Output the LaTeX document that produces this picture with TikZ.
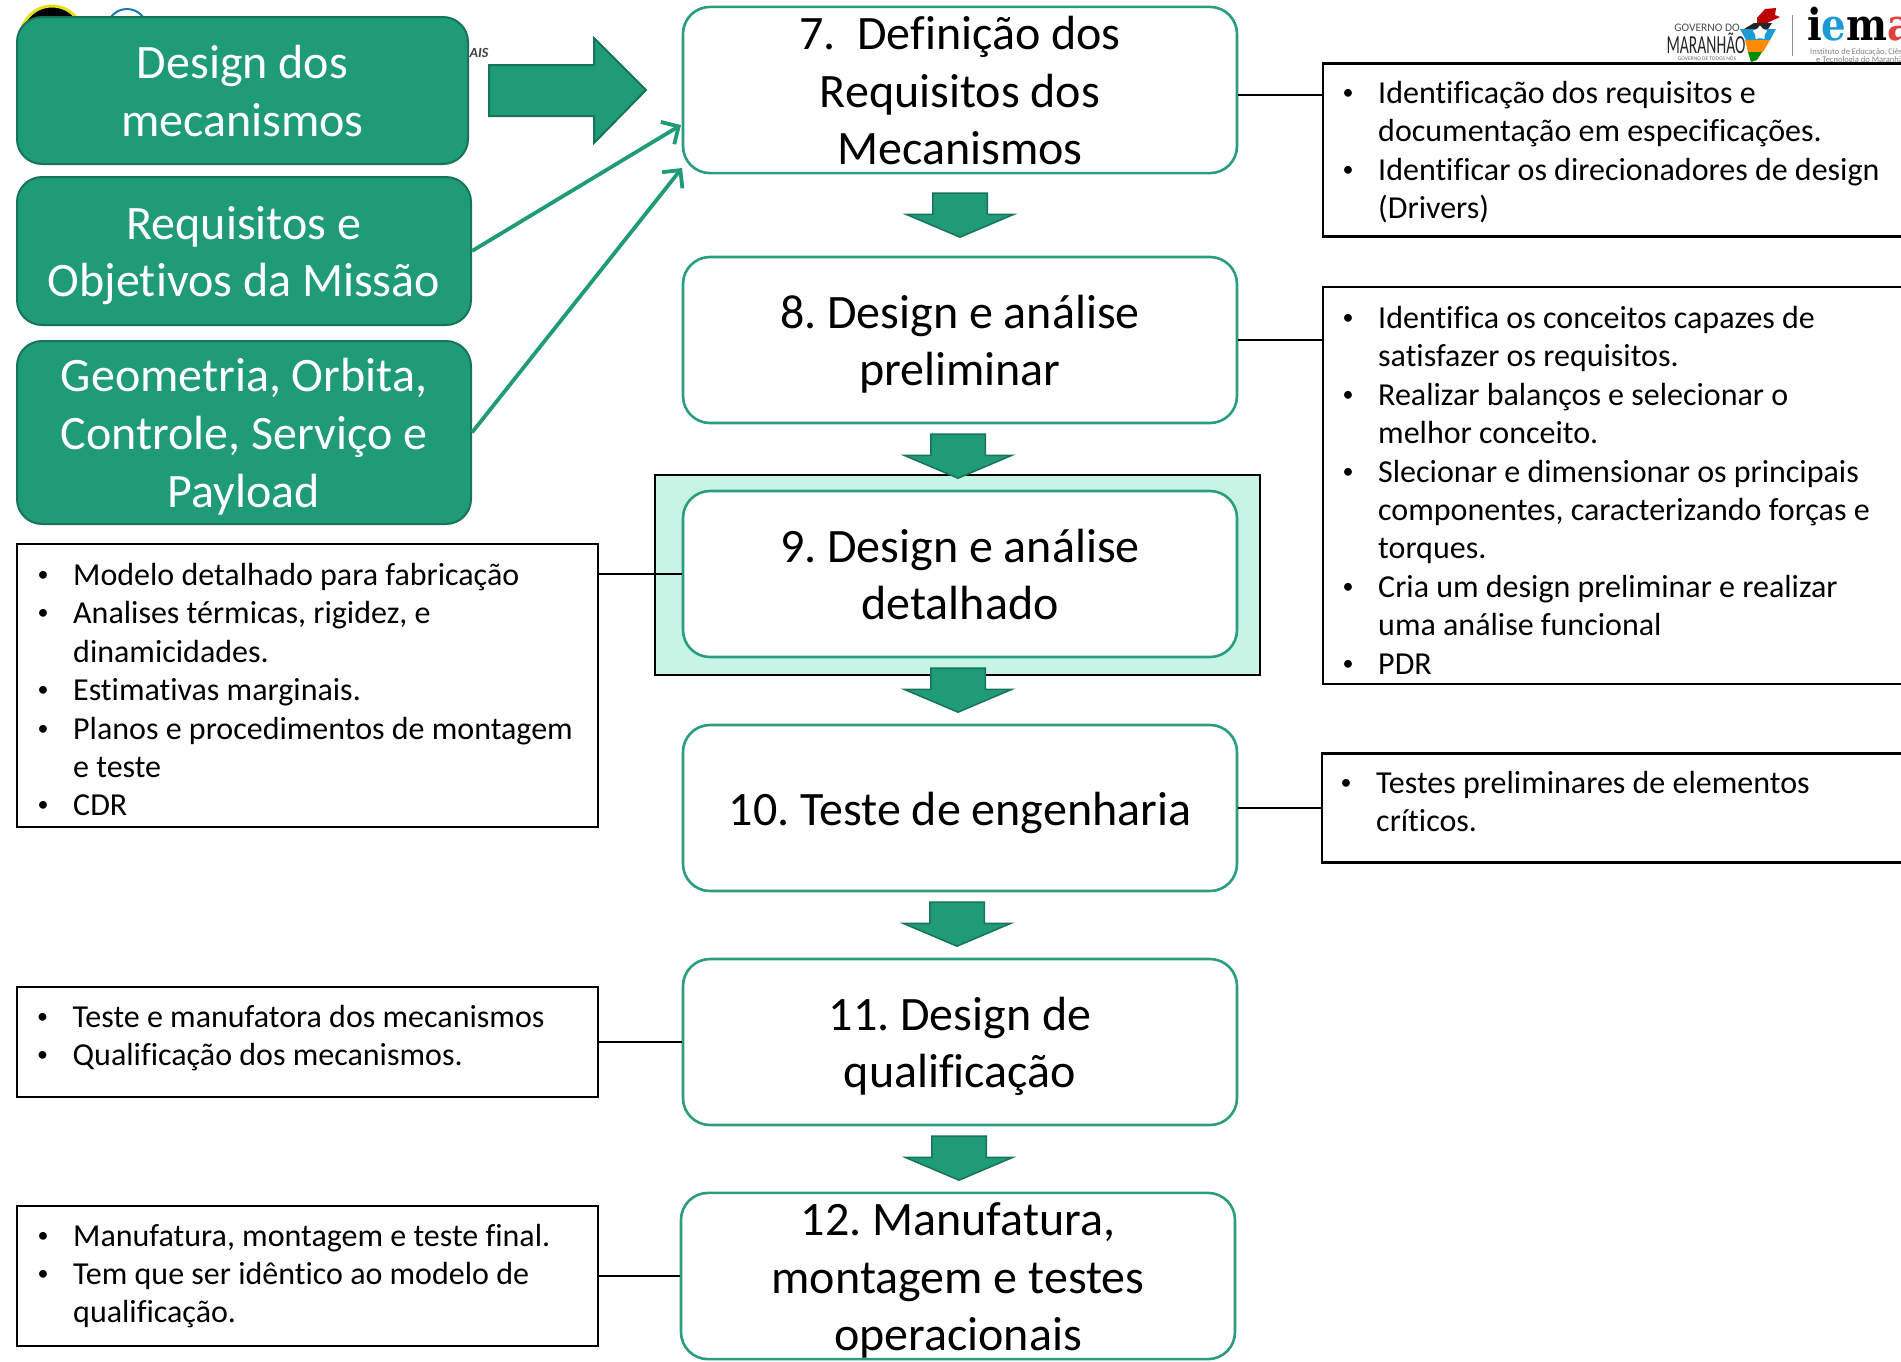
\documentclass[tikz,border=0pt]{standalone}
\usepackage{fontspec}
\setmainfont{Carlito}[Ligatures=CommonOff]
\newfontfamily\slabfont{DejaVu Serif}
\usetikzlibrary{shapes.arrows,shapes.geometric,arrows.meta}

\definecolor{mecagreen}{HTML}{1F9B78}
\definecolor{mecadark}{HTML}{17735A}
\definecolor{mecaline}{HTML}{2A9D7F}
\definecolor{mecalight}{HTML}{C8F4E6}
\definecolor{iemablue}{HTML}{1B9AD6}
\definecolor{iemared}{HTML}{E2403A}

\newlength{\bulw}
\setlength{\bulw}{36pt}
\newcommand{\itm}{\strut\makebox[\bulw][l]{\hspace{0.5pt}\raisebox{4pt}{\fontsize{22}{22}\selectfont •}}}
\newcommand{\cnt}{\strut\hspace*{\bulw}}
\newcommand{\headpad}{\rule{0pt}{42.5pt}}
\newcommand{\footpad}{\rule[-8.5pt]{0pt}{0pt}}

\tikzset{
  bigtext/.style={align=flush center,font=\fontsize{48}{57.6}\selectfont\frenchspacing,
    execute at begin node=\headpad,execute at end node=\footpad},
  stepbox/.style={bigtext,draw=mecaline,line width=2.6pt,rounded corners=27pt,fill=white,inner sep=0pt,
    text width=554pt,minimum height=166pt},
  inputbox/.style={bigtext,draw=mecadark,line width=2pt,rounded corners=25pt,fill=mecagreen,text=white,inner sep=0pt},
  infobox/.style={draw=black,line width=2.6pt,fill=white,inner sep=0pt},
  infotext/.style={anchor=north west,inner sep=0pt,align=left,font=\fontsize{32}{38.4}\selectfont\frenchspacing},
  downarrow/.style={single arrow,draw=mecadark,line width=1.5pt,fill=mecagreen,rotate=-90,anchor=tip,inner sep=0pt,
    text height=53pt,text depth=0pt,text width=0pt,minimum height=44pt,minimum width=106pt,
    single arrow head extend=26.5pt,single arrow tip angle=134,single arrow head indent=0pt},
  feedline/.style={-{Straight Barb[length=13pt,width=26pt]},draw=mecagreen,line width=3.8pt},
  linkline/.style={draw=black,line width=2.4pt},
}

\begin{document}
\begin{tikzpicture}[x=1pt,y=-1pt]
\useasboundingbox (0,0) rectangle (1901,1361);

% logos behind the boxes
\node[circle,draw=yellow!90!black,line width=3pt,fill=black,minimum size=62pt,inner sep=0pt] (logoA) at (52,37) {};
\node[circle,draw=iemablue!80!black,line width=2pt,fill=white,minimum size=40pt,inner sep=0pt] (logoB) at (127,29) {};
\node[inner sep=0pt,text=black!75,font=\fontsize{14}{14}\selectfont\bfseries\itshape] (logoC) at (479,53) {AIS};

\node[inner sep=0pt,text=black!70,font=\fontsize{11.5}{11.5}\selectfont] (govA) at (1707,28) {GOVERNO DO};
\node[inner sep=0pt,text=black!85,xscale=0.6,font=\fontsize{26}{26}\selectfont] (govB) at (1706,43) {MARANHÃO};
\node[inner sep=0pt,text=black!60,font=\fontsize{5.5}{5.5}\selectfont] (govC) at (1707,58) {GOVERNO DE TODOS NÓS};
\fill[red!75!black] (1757,18) -- (1765,9) -- (1776,8) -- (1775,15) -- (1780,17) -- (1767,23) -- (1757,23) -- cycle;
\fill[black!85] (1754,23) -- (1772,23) -- (1768,29) -- (1744,29) -- cycle;
\fill[iemablue] (1740,29) -- (1776,29) -- (1770,40) -- (1746,40) -- cycle;
\fill[orange!90!yellow] (1745,40) -- (1770,40) -- (1763,52) -- (1748,52) -- cycle;
\fill[green!55!black] (1748,52) -- (1762,52) -- (1757,60) -- (1751,62) -- cycle;
\node[star,star points=5,fill=white,inner sep=0pt,minimum size=15pt] (govStar) at (1760,33) {};
\draw[black!45,line width=1pt] (1792,15) -- (1792,56);
\node[anchor=west,inner sep=0pt,xscale=0.88,font=\fontsize{44}{44}\selectfont\slabfont\bfseries] (iemaLogo) at (1807,24)
  {i\textcolor{iemablue}{e}m\textcolor{iemared}{a}};
\node[anchor=west,inner sep=0pt,text=black!50,font=\fontsize{8.5}{8.5}\selectfont] (iemaA) at (1810,52) {Instituto de Educação, Ciência};
\node[anchor=west,inner sep=0pt,text=black!50,font=\fontsize{8.5}{8.5}\selectfont] (iemaB) at (1816,60) {e Tecnologia do Maranhão};

% highlight behind step 9
\node[draw=black,line width=2.6pt,fill=mecalight,minimum width=605pt,minimum height=200pt,inner sep=0pt] (highlight) at (957.5,575) {};

% steps
\node[stepbox] (reqMec) at (960,90) {7.\ \ Definição dos\\Requisitos dos\\Mecanismos};
\node[stepbox] (prelim) at (960,340) {8. Design e análise\\preliminar};
\node[stepbox] (detail) at (960,574) {9. Design e análise\\detalhado};
\node[stepbox] (engTest) at (960,808) {10. Teste de engenharia};
\node[stepbox] (qualif) at (960,1042) {11. Design de\\qualificação};
\node[stepbox] (manuf) at (958,1276) {12. Manufatura,\\montagem e testes\\operacionais};

% inputs
\node[inputbox,text width=451pt,minimum height=147pt] (inDesign) at (242.5,90.5) {Design dos\\mecanismos};
\node[inputbox,text width=454pt,minimum height=148pt] (inMission) at (244,251) {Requisitos e\\Objetivos da Missão};
\node[inputbox,text width=454pt,minimum height=183pt] (inGeom) at (244,432.5) {Geometria, Orbita,\\Controle, Serviço e\\Payload};

\draw[draw=mecadark,line width=2pt,fill=mecagreen] (489,65) -- (594,65) -- (594,38) -- (646,90) -- (594,143) -- (594,116) -- (489,116) -- cycle;

\coordinate (feedA) at (681,125);
\coordinate (feedB) at (682,168);
\draw[feedline] (inMission.east) -- (feedA);
\draw[feedline] (inGeom.east) -- (feedB);

% block arrows between the steps
\foreach \aname/\xc/\ytip in {arrowA/960/238, arrowB/958/479, arrowC/958/713, arrowD/957/947, arrowE/959/1181}{
    \node[downarrow] (\aname) at (\xc,\ytip) {};
}

% right notes
\node[infobox,minimum width=600pt,minimum height=173pt] (noteReq) at (1623,150) {};
\node[infotext] (noteReqText) at (1342,76.5) {\itm Identificação dos requisitos e\\\cnt documentação em especificações.\\\itm Identificar os direcionadores de design\\\cnt (Drivers)};
\draw[linkline] ([yshift=-5pt]reqMec.east) -- ([yshift=55pt]noteReq.west);

\node[infobox,minimum width=600pt,minimum height=397pt] (notePrelim) at (1623,485.5) {};
\node[infotext] (notePrelimText) at (1342,301.5) {\itm Identifica os conceitos capazes de\\\cnt satisfazer os requisitos.\\\itm Realizar balanços e selecionar o\\\cnt melhor conceito.\\\itm Slecionar e dimensionar os principais\\\cnt componentes, caracterizando forças e\\\cnt torques.\\\itm Cria um design preliminar e realizar\\\cnt uma análise funcional\\\itm PDR};
\draw[linkline] (prelim.east) -- ([yshift=145.5pt]notePrelim.west);

\node[infobox,minimum width=600pt,minimum height=109pt] (noteEng) at (1622,808) {};
\node[infotext] (noteEngText) at (1340,766.5) {\itm Testes preliminares de elementos\\\cnt críticos.};
\draw[linkline] (engTest.east) -- (noteEng.west);

% left notes
\node[infobox,minimum width=581pt,minimum height=283pt] (noteDetail) at (307.5,685.5) {};
\node[infotext] (noteDetailText) at (37,558.5) {\itm Modelo detalhado para fabricação\\\itm Analises térmicas, rigidez, e\\\cnt dinamicidades.\\\itm Estimativas marginais.\\\itm Planos e procedimentos de montagem\\\cnt e teste\\\itm CDR};
\draw[linkline] ([yshift=111.5pt]noteDetail.east) -- (detail.west);

\node[infobox,minimum width=581pt,minimum height=110pt] (noteQual) at (307.5,1042) {};
\node[infotext] (noteQualText) at (36.5,1000.5) {\itm Teste e manufatora dos mecanismos\\\itm Qualificação dos mecanismos.};
\draw[linkline] (noteQual.east) -- (qualif.west);

\node[infobox,minimum width=581pt,minimum height=140pt] (noteManuf) at (307.5,1276) {};
\node[infotext] (noteManufText) at (37,1219) {\itm Manufatura, montagem e teste final.\\\itm Tem que ser idêntico ao modelo de\\\cnt qualificação.};
\draw[linkline] (noteManuf.east) -- (manuf.west);

\end{tikzpicture}
\end{document}
